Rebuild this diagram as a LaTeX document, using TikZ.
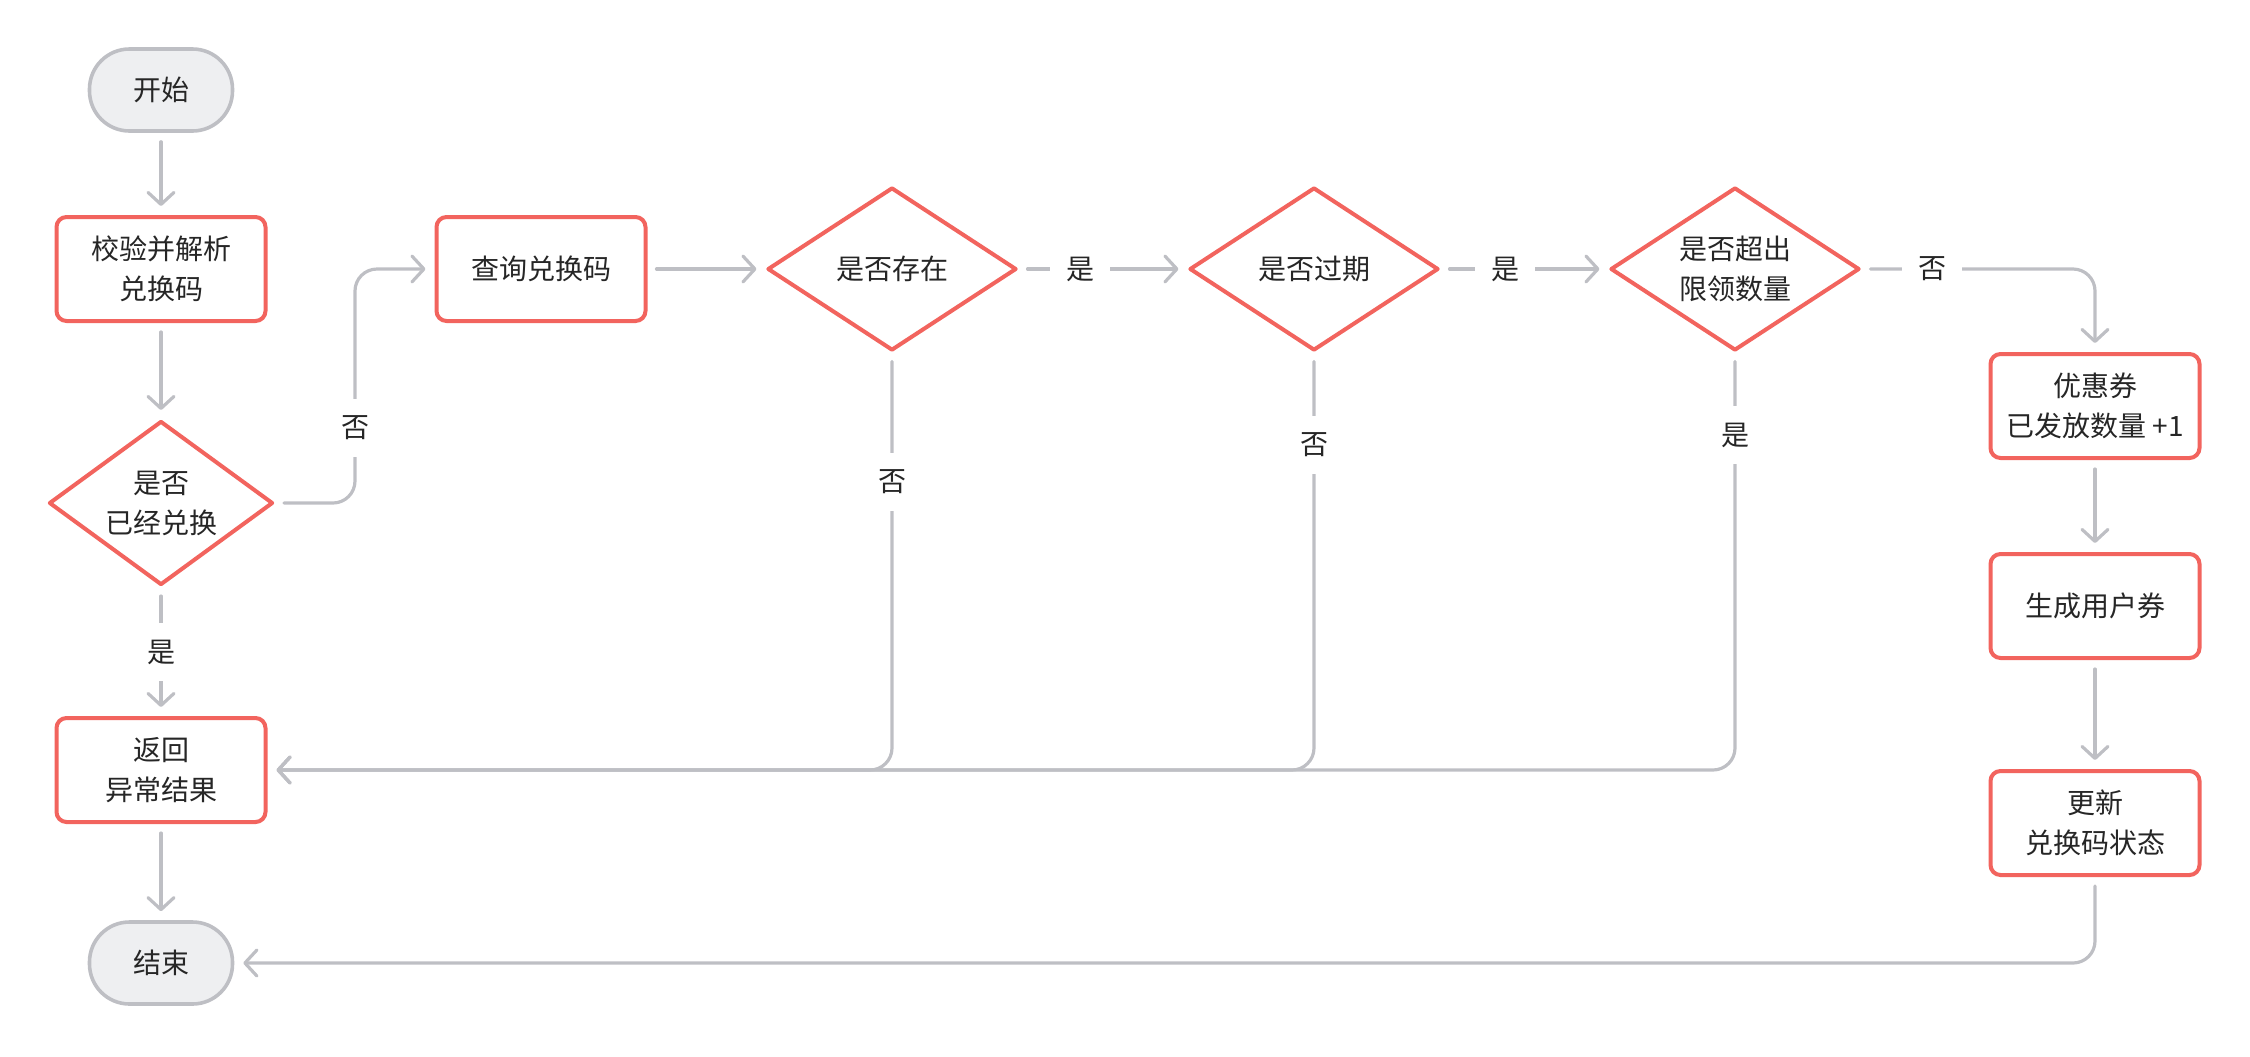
\documentclass[tikz,border=0pt]{standalone}
\usepackage{fontspec}
\newfontfamily\cjk{Noto Sans CJK SC}
\usetikzlibrary{arrows.meta,shapes.geometric}
\definecolor{redb}{HTML}{F2645E}
\definecolor{grayl}{HTML}{BEBFC4}
\definecolor{termfill}{HTML}{EEEFF1}
\definecolor{txt}{HTML}{262626}
\begin{document}
\begin{tikzpicture}[x=0.5pt,y=-0.5pt,
  base/.style={font=\cjk\fontsize{14pt}{20pt}\selectfont, text=txt, align=center, inner sep=0pt},
  term/.style={base, draw=grayl, fill=termfill, line width=1.8pt, rounded corners=20pt, minimum width=71.5pt, minimum height=41pt},
  proc/.style={base, draw=redb, fill=white, line width=2pt, rounded corners=5pt, minimum width=104.5pt, minimum height=52pt},
  dec/.style={base, diamond, draw=redb, fill=white, line width=2pt, line join=round, shape aspect=1.53, minimum width=124.5pt, minimum height=81.5pt},
  conn/.style={draw=grayl, line width=1.6pt, line cap=round, rounded corners=11pt, shorten <=4.5pt, shorten >=4.5pt, -{Straight Barb[length=6pt,width=13pt,line cap=round,line join=round]}},
  lbl/.style={base, fill=white, minimum width=30pt, minimum height=29pt}
]
\useasboundingbox (0,0) rectangle (2250,1056);
% nodes
\node[term] (start) at (161,90) {开始};
\node[proc] (check) at (161,269) {校验并解析\\兑换码};
\node[dec, shape aspect=1.366, minimum width=112pt, minimum height=82pt] (d1) at (161,503) {是否\\已经兑换};
\node[proc] (query) at (541,269) {查询兑换码};
\node[dec] (d2) at (892,269) {是否存在};
\node[dec] (d3) at (1314,269) {是否过期};
\node[dec] (d4) at (1735,269) {是否超出\\限领数量};
\node[proc] (coupon) at (2095,406) {优惠券\\已发放数量 +1};
\node[proc] (gen) at (2095,606) {生成用户券};
\node[proc] (upd) at (2095,823) {更新\\兑换码状态};
\node[proc] (ret) at (161,770) {返回\\异常结果};
\node[term] (end) at (161,963) {结束};
\coordinate (k1) at (355,269);
% connectors
\draw[conn] (start) -- (check);
\draw[conn] (check) -- (d1);
\draw[conn] (d1.east) -| (k1) -- (query.west);
\draw[conn] (d1) -- (ret);
\draw[conn] (ret) -- (end);
\draw[conn] (query) -- (d2);
\draw[conn] (d2) -- (d3);
\draw[conn] (d3) -- (d4);
\draw[conn] (d4.east) -| (coupon.north);
\draw[conn] (coupon) -- (gen);
\draw[conn] (gen) -- (upd);
\draw[conn] (upd.south) |- (end.east);
\draw[conn] (d2.south) |- (ret.east);
\draw[conn] (d3.south) |- (ret.east);
\draw[conn] (d4.south) |- (ret.east);
% labels
\node[lbl] (l1) at (355,428) {否};
\node[lbl] (l2) at (161,652) {是};
\node[lbl] (l3) at (1080,269) {是};
\node[lbl] (l4) at (1505,269) {是};
\node[lbl] (l5) at (1932,269) {否};
\node[lbl] (l6) at (892,482) {否};
\node[lbl] (l7) at (1314,445) {否};
\node[lbl] (l8) at (1735,435) {是};
\end{tikzpicture}
\end{document}
